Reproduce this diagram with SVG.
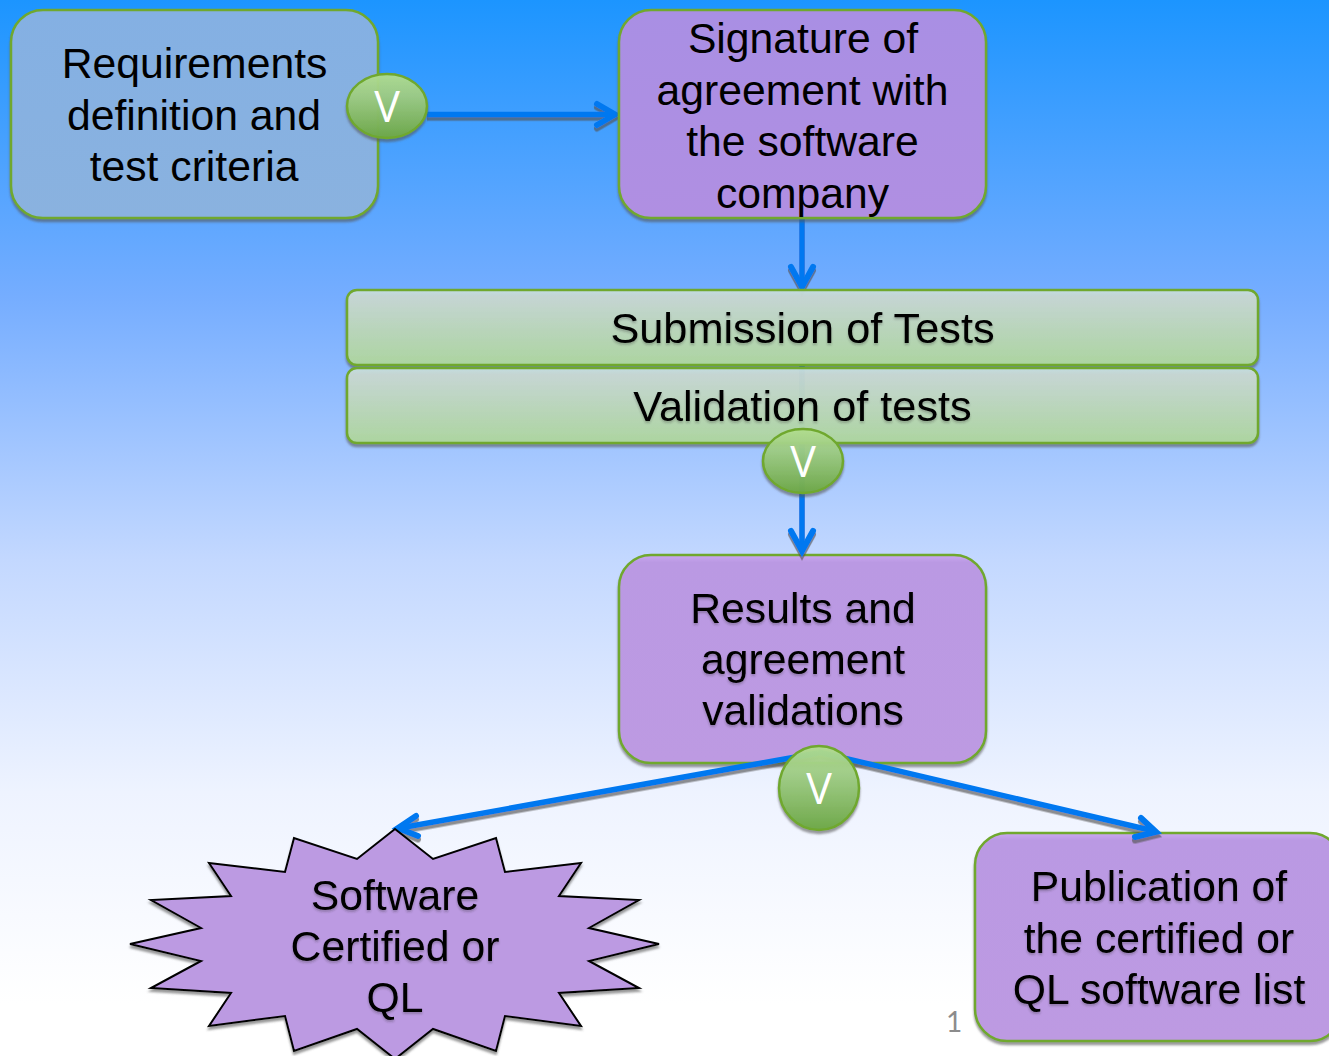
<svg xmlns="http://www.w3.org/2000/svg" width="1329" height="1056" viewBox="0 0 1329 1056">
<style>
.t{font-family:"Liberation Sans",Arial,sans-serif;font-size:42.700px;fill:#000;text-anchor:middle}
.b{font-size:43.300px}
.v{font-family:"Open Sans",Lato,sans-serif;font-weight:400;font-size:43px;fill:#fff;text-anchor:middle}
.box{stroke:#6fa82e;stroke-width:2.5}
.bar{fill:url(#gBar);stroke:#6fa82e;stroke-width:2.5}
.el{fill:url(#gEl);stroke:#6fa82e;stroke-width:2.5}
.con{fill:none;stroke:#0078f0;stroke-width:5.500;stroke-linejoin:miter}
.hd{fill:none;stroke:#0078f0;stroke-width:6;stroke-linecap:round;stroke-linejoin:miter}
</style>
<defs>
<linearGradient id="bg" x1="0" y1="0" x2="0" y2="1">
<stop offset="0" stop-color="#1c95ff"/><stop offset="0.28" stop-color="#75adff"/><stop offset="0.53" stop-color="#c3d8ff"/><stop offset="0.75" stop-color="#eef3ff"/><stop offset="0.95" stop-color="#fff"/>
</linearGradient>
<linearGradient id="gBlue" x1="0" y1="0" x2="0" y2="1"><stop offset="0" stop-color="#84b0e3"/><stop offset="1" stop-color="#8ab2df"/></linearGradient>
<linearGradient id="gP1" x1="0" y1="0" x2="0" y2="1"><stop offset="0" stop-color="#a98fe4"/><stop offset="1" stop-color="#b08fe2"/></linearGradient>
<linearGradient id="gP2" x1="0" y1="0" x2="0" y2="1"><stop offset="0" stop-color="#cba9f2"/><stop offset="0.035" stop-color="#ba99e3"/><stop offset="1" stop-color="#bd9ae2"/></linearGradient>
<linearGradient id="gBar" x1="0" y1="0" x2="0" y2="1"><stop offset="0" stop-color="#c4e0e2" stop-opacity=".95"/><stop offset="0.08" stop-color="#cddcd6" stop-opacity=".9"/><stop offset="1" stop-color="#aed79f" stop-opacity=".95"/></linearGradient>
<linearGradient id="gEl" x1="0" y1="0" x2="0" y2="1"><stop offset="0" stop-color="#b4e190" stop-opacity=".92"/><stop offset="0.35" stop-color="#9fce84" stop-opacity=".92"/><stop offset="1" stop-color="#6da846" stop-opacity=".96"/></linearGradient>
<filter id="sh" x="-5%" y="-5%" width="110%" height="115%"><feDropShadow dx="0" dy="3" stdDeviation="1" flood-color="#555" flood-opacity=".6"/></filter>
<filter id="ts" x="-5%" y="-5%" width="110%" height="115%"><feDropShadow dx="0" dy="2" stdDeviation="1" flood-color="#333" flood-opacity=".3"/></filter>
<filter id="cs" x="-5%" y="-5%" width="110%" height="115%"><feDropShadow dx="0" dy="3.500" stdDeviation=".6" flood-color="#555" flood-opacity=".65"/></filter>
</defs>
<rect width="1329" height="1056" fill="url(#bg)"/>

<g id="node-results">
<rect class="box" x="619" y="555" width="367" height="208" rx="32" fill="url(#gP2)" filter="url(#sh)"/>
<g filter="url(#ts)"><text class="t" x="803" y="623">Results and</text><text class="t" x="803" y="674">agreement</text><text class="t" x="803" y="725">validations</text></g>
</g>
<g id="node-publication">
<rect class="box" x="975" y="833" width="367" height="208" rx="32" fill="url(#gP2)" filter="url(#sh)"/>
<g filter="url(#ts)"><text class="t" x="1159" y="901">Publication of</text><text class="t" x="1159" y="952.500">the certified or</text><text class="t" x="1159" y="1004">QL software list</text></g>
</g>

<g id="connectors" filter="url(#cs)">
<path class="con" d="M427 114.500H614"/><path class="hd" d="M597 104L615 114.500L597 125"/>
<path class="con" d="M802 218V286"/><path class="hd" d="M791 267L802 287L813 267"/>
<path class="con" d="M802 365V550"/><path class="hd" d="M791 531L802 551L813 531"/>
<path class="con" d="M818 753L400 828"/><path class="hd" d="M416 816L398 828L418 836"/>
<path class="con" d="M818 752L1154 831"/><path class="hd" d="M1141 818L1156 832L1135 837"/>
</g>

<g id="node-requirements">
<rect class="box" x="11" y="10" width="367" height="208" rx="32" fill="url(#gBlue)" filter="url(#sh)"/>
<text class="t" x="194.500" y="78">Requirements</text><text class="t" x="194" y="129.500">definition and</text><text class="t" x="194" y="181">test criteria</text>
</g>
<g id="node-signature">
<rect class="box" x="619" y="10" width="367" height="208" rx="32" fill="url(#gP1)" filter="url(#sh)"/>
<text class="t" x="803" y="53">Signature of</text><text class="t" x="802.500" y="105">agreement with</text><text class="t" x="802.500" y="156">the software</text><text class="t" x="802.500" y="207.500">company</text>
</g>
<g id="node-submission">
<rect class="bar" x="347" y="290" width="911" height="75" rx="10" filter="url(#sh)"/>
<text class="t b" x="802.500" y="343" filter="url(#ts)">Submission of Tests</text>
</g>
<g id="node-validation">
<rect class="bar" x="347" y="368" width="911" height="75" rx="10" filter="url(#sh)"/>
<text class="t b" x="802.500" y="421" filter="url(#ts)">Validation of tests</text>
</g>
<g id="node-certified">
<polygon points="395,829 433,859 496,838 505,872 581,863 559,896 639,900 589,928 659,944 589,961 639,988 559,993 581,1026 505,1016 496,1051 433,1029 395,1059 357,1029 294,1051 285,1016 209,1026 231,993 151,988 201,961 130,944 201,928 151,900 231,896 209,863 285,872 294,838 357,859" fill="#bc9ae2" stroke="#000" stroke-width="2" filter="url(#sh)"/>
<g filter="url(#ts)"><text class="t" x="395" y="910">Software</text><text class="t" x="395" y="961">Certified or</text><text class="t" x="395" y="1012">QL</text></g>
</g>
<g id="gate-1"><ellipse class="el" cx="387" cy="106" rx="40" ry="32" filter="url(#sh)"/><text class="v" x="387" y="122">V</text></g>
<g id="gate-2"><ellipse class="el" cx="803" cy="461" rx="40" ry="32" filter="url(#sh)"/><text class="v" x="803" y="477">V</text></g>
<g id="gate-3"><ellipse class="el" cx="819" cy="788" rx="40" ry="42" filter="url(#sh)"/><text class="v" x="819" y="804">V</text></g>
<text id="page-number" x="954" y="1032" font-family="Lato,'Open Sans',sans-serif" font-size="28" fill="#8c8c8c" text-anchor="middle">1</text>
</svg>
